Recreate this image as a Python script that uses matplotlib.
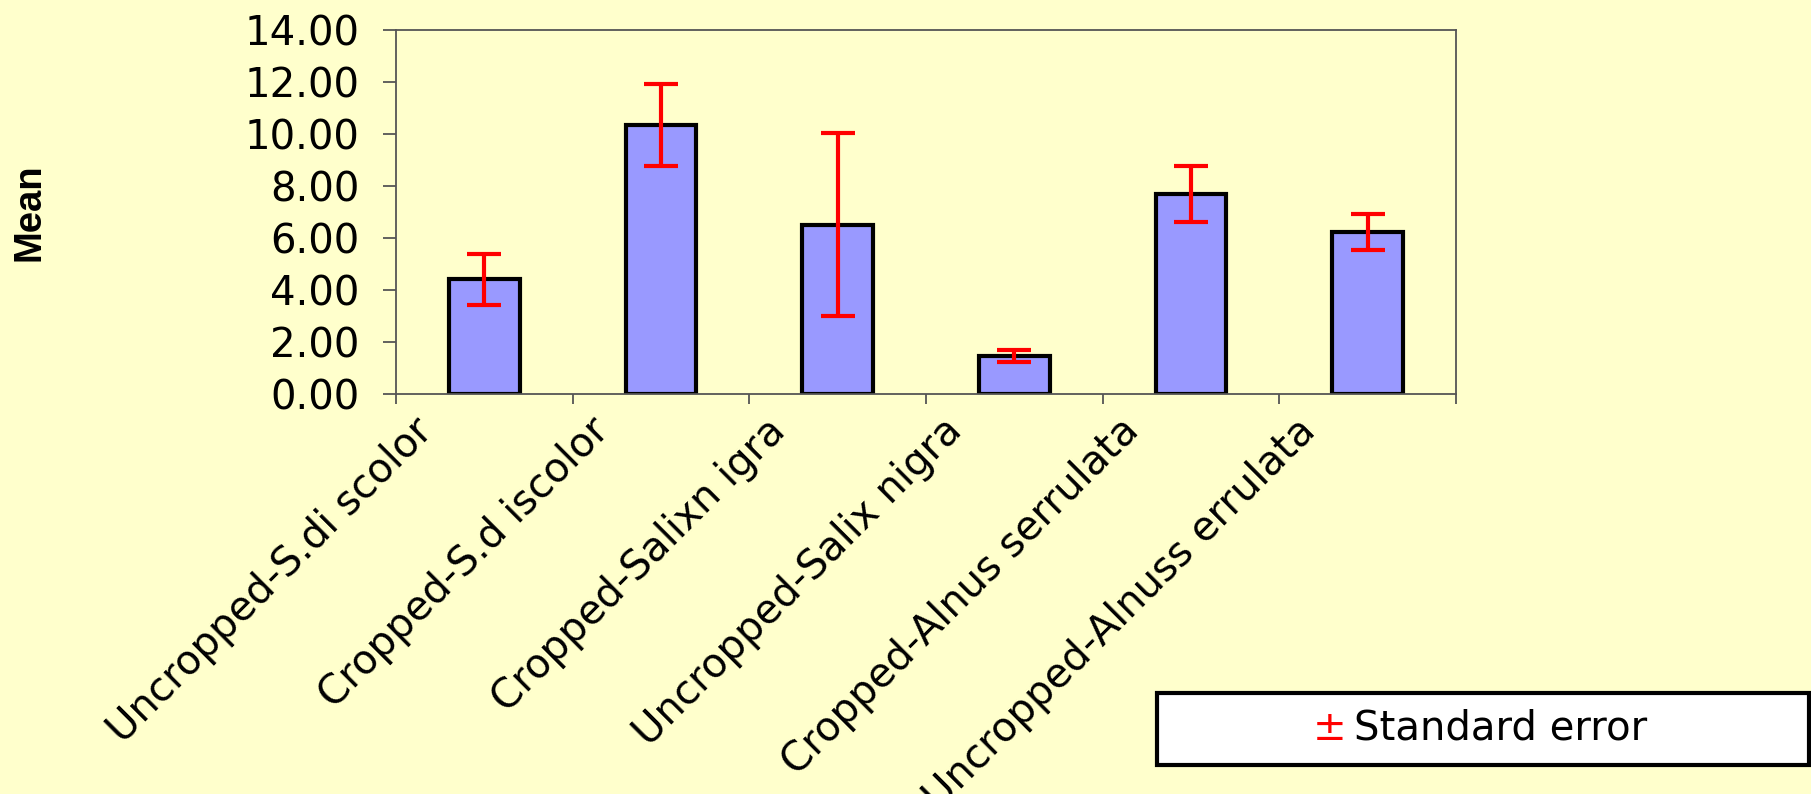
import matplotlib
matplotlib.use('Agg')
import matplotlib.pyplot as plt
import matplotlib.transforms as mtransforms
from matplotlib.patches import Rectangle
import numpy as np

categories = ['Uncropped-S.di scolor', 'Cropped-S.d iscolor', 'Cropped-Salixn igra',
              'Uncropped-Salix nigra', 'Cropped-Alnus serrulata', 'Uncropped-Alnuss errulata']
means = [4.40, 10.33, 6.51, 1.46, 7.68, 6.22]
std_err = [0.98, 1.56, 3.53, 0.22, 1.06, 0.70]
yticks = [0, 2, 4, 6, 8, 10, 12, 14]

bg = '#FFFFCC'
fs = 29
# the reference text is wide, DejaVu matches its widths better than Arial
plt.rcParams['font.family'] = ['DejaVu Sans']

W, H = 1811, 794
fig = plt.figure(figsize=(W / 100, H / 100), dpi=100, facecolor=bg)
ax = fig.add_axes((396 / W, 1 - 394 / H, (1456 - 396) / W, (394 - 29.5) / H))
ax.set_facecolor(bg)

x = np.arange(len(categories))
ax.bar(x, means, width=0.4, color='#9999FF', edgecolor='black', linewidth=3, zorder=2)
ax.errorbar(x, means, yerr=std_err, fmt='none', ecolor='red', elinewidth=3,
            capsize=12.2, capthick=3, zorder=3)

ax.set_xlim(-0.5, len(categories) - 0.5)
ax.set_ylim(0, 14)
ax.set_yticks(yticks)
ax.set_yticklabels(['%.2f' % v for v in yticks], fontsize=fs)
ax.tick_params(axis='y', direction='out', length=9.5, width=1.3, color='#555555', pad=17)

# category boundaries carry the tick marks, labels sit at the centres
ax.set_xticks(np.arange(len(categories) + 1) - 0.5, minor=True)
ax.set_xticks(x)
ax.set_xticklabels(categories, fontsize=fs, rotation=45, ha='right', va='top',
                   rotation_mode='anchor')
ax.tick_params(axis='x', which='major', length=0, pad=12)
ax.tick_params(axis='x', which='minor', direction='out', length=7.5, width=1.3, color='#555555')
shift = mtransforms.ScaledTranslation(-0.72, 0, fig.dpi_scale_trans)
for lab in ax.get_xticklabels():
    lab.set_transform(lab.get_transform() + shift)

for sp in ax.spines.values():
    sp.set_color('#555555')
    sp.set_linewidth(1.3)

fig.text(29 / W, 1 - 212 / H, 'Mean', rotation=90, fontsize=27.5, fontweight='bold',
         family='Liberation Sans', ha='center', va='center')

# legend box
fig.add_artist(Rectangle((1157 / W, 1 - 765 / H), (1809 - 1157) / W, 72 / H,
                         transform=fig.transFigure, facecolor='white', edgecolor='black',
                         linewidth=3))
fig.text(1313 / W, 1 - 740 / H, '\u00b1', color='red', fontsize=fs, va='baseline')
fig.text(1354 / W, 1 - 740 / H, 'Standard error', color='black', fontsize=fs, va='baseline')

fig.savefig('out.png', dpi=100, facecolor=fig.get_facecolor())
